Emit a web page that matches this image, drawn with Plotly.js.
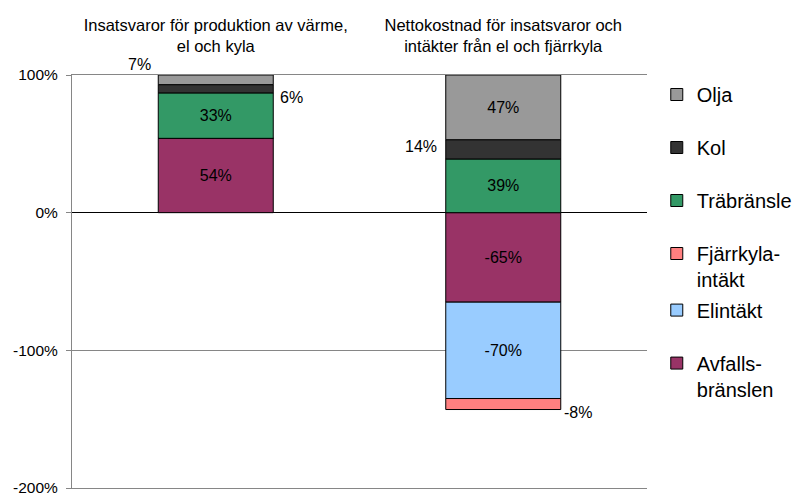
<!DOCTYPE html>
<html>
<head>
<meta charset="utf-8">
<script src="https://cdn.plot.ly/plotly-3.0.1.min.js"></script>
<style>
  html, body { margin: 0; padding: 0; background: #ffffff; }
  #chart { width: 797px; height: 496px; }
</style>
</head>
<body>
<div id="chart"></div>
<script>
// Categories (column headings drawn along the top)
const categories = [
  "Insatsvaror för produktion av värme,<br>el och kyla",
  "Nettokostnad för insatsvaror och<br>intäkter från el och fjärrkyla"
];

// Shares in percent, per fuel / income type, one value per category
const avfallsbranslen = [54, -65];
const elintakt        = [0, -70];
const fjarrkylaintakt = [0, -8];
const trabransle      = [33, 39];
const kol             = [6, 14];
const olja            = [7, 47];

// Value axis ticks
const yTickValues = [-200, -100, 0, 100];
const yTickLabels = ["-200%", "-100%", "0%", "100%"];

// Legend names
const seriesNames = {
  avfall: "Avfalls-<br>bränslen",
  el: "Elintäkt",
  fjarr: "Fjärrkyla-<br>intäkt",
  tra: "Träbränsle",
  kol: "Kol",
  olja: "Olja"
};

const FONT = "Liberation Sans, Arial, sans-serif";

// Series in stacking order (first trace sits next to the zero line);
// rank gives the top-to-bottom order in the legend
const series = [
  { key: "avfall", values: avfallsbranslen, color: "#993366", legend: "legend2", rank: 6 },
  { key: "el",     values: elintakt,        color: "#99CCFF", legend: "legend2", rank: 5 },
  { key: "fjarr",  values: fjarrkylaintakt, color: "#FF8080", legend: "legend",  rank: 4 },
  { key: "tra",    values: trabransle,      color: "#339966", legend: "legend",  rank: 3 },
  { key: "kol",    values: kol,             color: "#333333", legend: "legend",  rank: 2 },
  { key: "olja",   values: olja,            color: "#999999", legend: "legend",  rank: 1 }
];

// Segments too thin for an inside label get their label placed beside the bar
const outsideLabel = {
  "olja-0":  { side: "left",  edge: "top", xshift: -5, yshift: 0 },
  "kol-0":   { side: "right", edge: "mid", xshift: 5,  yshift: -9 },
  "kol-1":   { side: "left",  edge: "mid", xshift: -7, yshift: 3 },
  "fjarr-1": { side: "right", edge: "mid", xshift: 1,  yshift: -8 }
};

const xs = categories.map((_, i) => i);
const halfBar = 0.2;   // bargap 0.6 -> bars are 0.4 category wide

const traces = [];
const annotations = [];
const posBase = xs.map(() => 0);
const negBase = xs.map(() => 0);

series.forEach(s => {
  const text = s.values.map((v, i) => {
    if (v === 0) return "";
    return outsideLabel[s.key + "-" + i] ? "" : v + "%";
  });

  s.values.forEach((v, i) => {
    const base = v >= 0 ? posBase[i] : negBase[i];
    const top = base + v;
    const spec = outsideLabel[s.key + "-" + i];
    if (spec && v !== 0) {
      const left = spec.side === "left";
      const atTop = spec.edge === "top";
      annotations.push({
        x: i + (left ? -halfBar : halfBar),
        y: atTop ? top : base + v / 2,
        xref: "x", yref: "y",
        text: v + "%",
        showarrow: false,
        xanchor: left ? "right" : "left",
        yanchor: atTop ? "bottom" : "middle",
        xshift: spec.xshift,
        yshift: spec.yshift,
        font: { family: FONT, size: 16, color: "#000000" }
      });
    }
    if (v >= 0) posBase[i] = top; else negBase[i] = top;
  });

  traces.push({
    type: "bar",
    x: xs,
    y: s.values,
    name: seriesNames[s.key],
    legend: s.legend,
    legendgroup: s.key,
    legendrank: s.rank,
    marker: { color: s.color, line: { color: "#000000", width: 1 } },
    text: text,
    textposition: "inside",
    insidetextanchor: "middle",
    constraintext: "none",
    textfont: { family: FONT, size: 16, color: "#000000" },
    hoverinfo: "skip"
  });
});

const legendCommon = {
  x: 1.017,
  xanchor: "left",
  yanchor: "top",
  traceorder: "grouped",
  tracegroupgap: 24,
  valign: "top",
  bgcolor: "rgba(0,0,0,0)",
  font: { family: FONT, size: 20, color: "#000000" },
  itemclick: false,
  itemdoubleclick: false
};

const layout = {
  width: 797,
  height: 496,
  margin: { l: 72, r: 150, t: 75, b: 8, pad: 0, autoexpand: false },
  paper_bgcolor: "#ffffff",
  plot_bgcolor: "#ffffff",
  barmode: "relative",
  bargap: 0.6,
  font: { family: FONT, size: 16, color: "#000000" },
  showlegend: true,
  legend: Object.assign({}, legendCommon, { y: 1.0 }),
  legend2: Object.assign({}, legendCommon, { y: 0.478 }),
  xaxis: {
    type: "linear",
    range: [-0.5, categories.length - 0.5],
    side: "top",
    tickmode: "array",
    tickvals: xs,
    ticktext: categories,
    ticks: "",
    showgrid: false,
    zeroline: false,
    showline: true,
    mirror: true,
    linecolor: "#868686",
    linewidth: 1,
    ticklabelstandoff: 15,
    tickfont: { family: FONT, size: 16.5, color: "#000000" },
    fixedrange: true
  },
  yaxis: {
    range: [-200, 100],
    tickmode: "array",
    tickvals: yTickValues,
    ticktext: yTickLabels,
    showgrid: true,
    gridcolor: "#868686",
    gridwidth: 1,
    zeroline: true,
    zerolinecolor: "#000000",
    zerolinewidth: 1,
    showline: true,
    linecolor: "#868686",
    linewidth: 1,
    ticks: "outside",
    ticklen: 5,
    tickcolor: "#868686",
    tickfont: { family: FONT, size: 15.5, color: "#000000" },
    ticklabelstandoff: 5,
    ticklabeloverflow: "allow",
    fixedrange: true
  },
  annotations: annotations
};

Plotly.newPlot("chart", traces, layout, { displayModeBar: false, staticPlot: true });
</script>
</body>
</html>
